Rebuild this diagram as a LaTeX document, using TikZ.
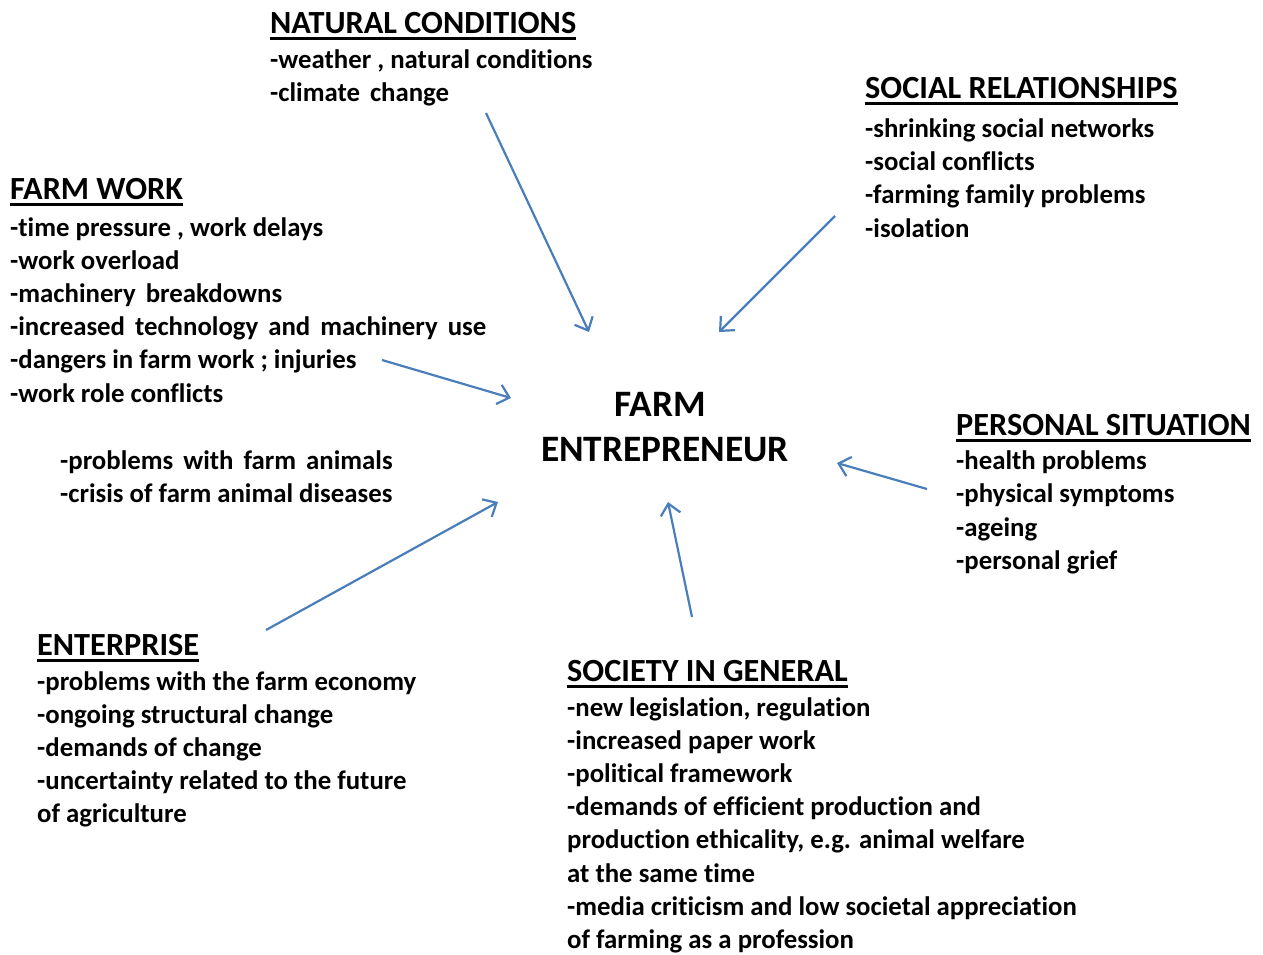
\documentclass[tikz,border=0pt]{standalone}
\usepackage{fontspec}
\setmainfont{Carlito}[Ligatures={NoCommon}]
\usetikzlibrary{arrows.meta}
\definecolor{arrowblue}{HTML}{4A7EBB}
\tikzset{
  body/.style={anchor=base west,inner sep=0pt,font=\bfseries\fontsize{26.8}{30}\selectfont},
  head/.style={anchor=base west,inner sep=0pt,font=\bfseries\fontsize{32.3}{36}\selectfont},
  center/.style={anchor=base,inner sep=0pt,font=\bfseries\fontsize{37.3}{42}\selectfont},
  uline/.style={line width=3pt},
  link/.style={draw=arrowblue,line width=2.2pt,-{Straight Barb[length=11pt,width=20pt,line width=2.2pt]}}
}
\newcommand\ws[1]{{\spaceskip=10pt\relax #1}}
\newcommand\textblock[5]{%
  \foreach \t [count=\i] in {#5} {\node[body] (#1\i) at (#2,{#3+(\i-1)*#4}) {\t};}}
\newcommand\heading[4]{%
  \node[head] (#1) at (#2,#3) {#4};
  \draw[uline] ([yshift=-5pt]#1.base west) -- ([yshift=-5pt]#1.base east);}
\begin{document}
\begin{tikzpicture}[x=1pt,y=-1pt]
\useasboundingbox[fill=white] (0,0) rectangle (1263,954);
% natural conditions
\heading{hnc}{270}{33}{NATURAL CONDITIONS}
\textblock{nc}{270}{68}{33.3}{{-weather , natural conditions},{\ws{-climate change}}}
% social relationships
\heading{hsr}{865}{98}{SOCIAL RELATIONSHIPS\ }
\textblock{sr}{865}{137}{33.4}{{-shrinking social networks},{-social conflicts},{-farming family problems},{-isolation}}
% farm work
\heading{hfw}{10}{199}{FARM WORK}
\textblock{fw}{10}{236}{33.2}{{-time pressure , work delays},{-work overload},{\ws{-machinery breakdowns}},{\ws{-increased technology and machinery use}},{-dangers in farm work ; injuries},{-work role conflicts}}
\textblock{fa}{60}{469}{33.2}{{\ws{-problems with farm animals}},{-crisis of farm animal diseases}}
% centre
\node[center] (farm) at (660,416) {FARM};
\node[center] (entre) at (665,461) {ENTREPRENEUR};
% personal situation
\heading{hps}{956}{435}{PERSONAL SITUATION}
\textblock{ps}{956}{469}{33.6}{{-health problems},{-physical symptoms},{-ageing},{-personal grief}}
% enterprise
\heading{hen}{37}{655}{ENTERPRISE}
\textblock{en}{37}{690}{33.2}{{-problems with the farm economy},{-ongoing structural change},{-demands of change},{-uncertainty related to the future},{of agriculture}}
% society in general
\heading{hsg}{567}{681}{SOCIETY IN GENERAL}
\textblock{sg}{567}{716}{33.2}{{-new legislation, regulation},{-increased paper work},{-political framework},{-demands of efficient production and},{production ethicality, e.g. animal welfare},{at the same time},{-media criticism and low societal appreciation},{of farming as a profession}}
% arrow ends
\coordinate (a1s) at (486,113); \coordinate (a1e) at (589,332);
\coordinate (a2s) at (835,216); \coordinate (a2e) at (719,332);
\coordinate (a3s) at (382,360); \coordinate (a3e) at (511,398);
\coordinate (a4s) at (927,489); \coordinate (a4e) at (837,463);
\coordinate (a5s) at (692,617); \coordinate (a5e) at (668,502);
\coordinate (a6s) at (266,630); \coordinate (a6e) at (498,502);
\foreach \k in {1,...,6} {\draw[link] (a\k s) -- (a\k e);}
\end{tikzpicture}
\end{document}
